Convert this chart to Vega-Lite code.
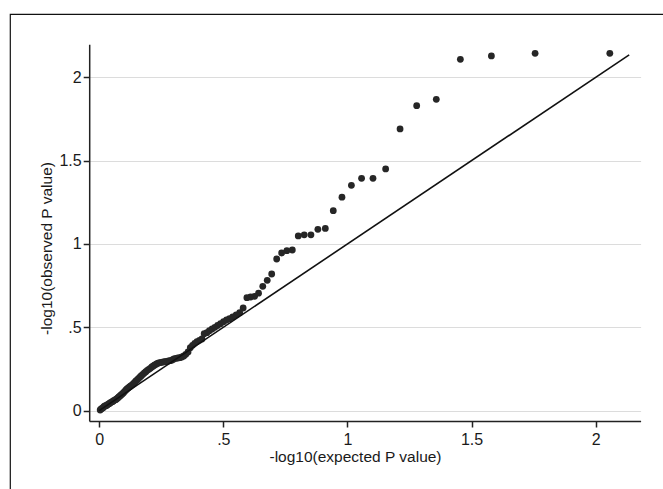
{
  "$schema": "https://vega.github.io/schema/vega-lite/v6.json",
  "width": 658,
  "height": 480,
  "autosize": {"type": "none"},
  "padding": {"left": 10, "top": 14, "right": 0, "bottom": 0},
  "background": "white",
  "config": {
    "view": {"stroke": "#111111", "strokeWidth": 1.2},
    "font": "Liberation Sans"
  },
  "datasets": {
    "pts": [
      {"expected": 2.057, "observed": 2.144},
      {"expected": 1.756, "observed": 2.144},
      {"expected": 1.580, "observed": 2.128},
      {"expected": 1.455, "observed": 2.108},
      {"expected": 1.358, "observed": 1.868},
      {"expected": 1.279, "observed": 1.830},
      {"expected": 1.212, "observed": 1.690},
      {"expected": 1.154, "observed": 1.450},
      {"expected": 1.103, "observed": 1.394},
      {"expected": 1.057, "observed": 1.394},
      {"expected": 1.016, "observed": 1.352},
      {"expected": 0.978, "observed": 1.281},
      {"expected": 0.943, "observed": 1.200},
      {"expected": 0.911, "observed": 1.093},
      {"expected": 0.881, "observed": 1.088},
      {"expected": 0.853, "observed": 1.055},
      {"expected": 0.826, "observed": 1.055},
      {"expected": 0.802, "observed": 1.048},
      {"expected": 0.778, "observed": 0.964},
      {"expected": 0.756, "observed": 0.960},
      {"expected": 0.735, "observed": 0.946},
      {"expected": 0.715, "observed": 0.910},
      {"expected": 0.695, "observed": 0.820},
      {"expected": 0.677, "observed": 0.782},
      {"expected": 0.659, "observed": 0.746},
      {"expected": 0.642, "observed": 0.705},
      {"expected": 0.626, "observed": 0.686},
      {"expected": 0.610, "observed": 0.682},
      {"expected": 0.595, "observed": 0.678},
      {"expected": 0.580, "observed": 0.616},
      {"expected": 0.566, "observed": 0.588},
      {"expected": 0.552, "observed": 0.575},
      {"expected": 0.538, "observed": 0.562},
      {"expected": 0.525, "observed": 0.552},
      {"expected": 0.513, "observed": 0.544},
      {"expected": 0.501, "observed": 0.534},
      {"expected": 0.489, "observed": 0.522},
      {"expected": 0.477, "observed": 0.511},
      {"expected": 0.466, "observed": 0.500},
      {"expected": 0.455, "observed": 0.490},
      {"expected": 0.444, "observed": 0.480},
      {"expected": 0.434, "observed": 0.468},
      {"expected": 0.423, "observed": 0.462},
      {"expected": 0.414, "observed": 0.430},
      {"expected": 0.404, "observed": 0.422},
      {"expected": 0.394, "observed": 0.414},
      {"expected": 0.385, "observed": 0.404},
      {"expected": 0.376, "observed": 0.392},
      {"expected": 0.367, "observed": 0.378},
      {"expected": 0.358, "observed": 0.352},
      {"expected": 0.349, "observed": 0.338},
      {"expected": 0.341, "observed": 0.328},
      {"expected": 0.333, "observed": 0.322},
      {"expected": 0.325, "observed": 0.318},
      {"expected": 0.317, "observed": 0.316},
      {"expected": 0.309, "observed": 0.314},
      {"expected": 0.301, "observed": 0.310},
      {"expected": 0.294, "observed": 0.304},
      {"expected": 0.286, "observed": 0.300},
      {"expected": 0.279, "observed": 0.298},
      {"expected": 0.272, "observed": 0.296},
      {"expected": 0.265, "observed": 0.294},
      {"expected": 0.258, "observed": 0.292},
      {"expected": 0.251, "observed": 0.290},
      {"expected": 0.244, "observed": 0.288},
      {"expected": 0.237, "observed": 0.285},
      {"expected": 0.231, "observed": 0.280},
      {"expected": 0.224, "observed": 0.274},
      {"expected": 0.218, "observed": 0.268},
      {"expected": 0.212, "observed": 0.262},
      {"expected": 0.206, "observed": 0.254},
      {"expected": 0.200, "observed": 0.248},
      {"expected": 0.194, "observed": 0.242},
      {"expected": 0.188, "observed": 0.234},
      {"expected": 0.182, "observed": 0.226},
      {"expected": 0.176, "observed": 0.218},
      {"expected": 0.170, "observed": 0.210},
      {"expected": 0.165, "observed": 0.202},
      {"expected": 0.159, "observed": 0.194},
      {"expected": 0.154, "observed": 0.186},
      {"expected": 0.148, "observed": 0.178},
      {"expected": 0.143, "observed": 0.170},
      {"expected": 0.138, "observed": 0.162},
      {"expected": 0.133, "observed": 0.155},
      {"expected": 0.127, "observed": 0.148},
      {"expected": 0.122, "observed": 0.142},
      {"expected": 0.117, "observed": 0.136},
      {"expected": 0.112, "observed": 0.130},
      {"expected": 0.108, "observed": 0.124},
      {"expected": 0.103, "observed": 0.116},
      {"expected": 0.098, "observed": 0.108},
      {"expected": 0.093, "observed": 0.100},
      {"expected": 0.088, "observed": 0.094},
      {"expected": 0.084, "observed": 0.088},
      {"expected": 0.079, "observed": 0.082},
      {"expected": 0.075, "observed": 0.076},
      {"expected": 0.070, "observed": 0.070},
      {"expected": 0.066, "observed": 0.066},
      {"expected": 0.061, "observed": 0.062},
      {"expected": 0.057, "observed": 0.058},
      {"expected": 0.053, "observed": 0.054},
      {"expected": 0.048, "observed": 0.050},
      {"expected": 0.044, "observed": 0.046},
      {"expected": 0.040, "observed": 0.042},
      {"expected": 0.036, "observed": 0.038},
      {"expected": 0.032, "observed": 0.034},
      {"expected": 0.028, "observed": 0.030},
      {"expected": 0.023, "observed": 0.028},
      {"expected": 0.019, "observed": 0.024},
      {"expected": 0.016, "observed": 0.018},
      {"expected": 0.012, "observed": 0.014},
      {"expected": 0.008, "observed": 0.010},
      {"expected": 0.004, "observed": 0.004}
    ],
    "ref": [
      {"expected": 0, "observed": 0},
      {"expected": 2.135, "observed": 2.135}
    ]
  },
  "layer": [
    {
      "data": {"name": "pts"},
      "mark": {"type": "circle", "size": 46, "color": "#262626", "opacity": 1},
      "encoding": {
        "x": {
          "field": "expected",
          "type": "quantitative",
          "scale": {"domain": [-0.0402, 2.181], "range": [79.2, 630.6], "nice": false, "zero": false},
          "axis": {
            "title": "-log10(expected P value)",
            "values": [0, 0.5, 1, 1.5, 2],
            "labelExpr": "datum.value == 0.5 ? '.5' : toString(datum.value)",
            "offset": -73,
            "grid": false,
            "domainColor": "#222222",
            "domainWidth": 1.5,
            "tickColor": "#222222",
            "tickWidth": 1.5,
            "tickSize": 6,
            "labelFontSize": 16,
            "labelColor": "#1a1a1a",
            "labelPadding": 4,
            "labelFlush": false,
            "labelOverlap": false,
            "titleFontSize": 15.5,
            "titleFontWeight": "normal",
            "titleColor": "#1a1a1a",
            "titleX": 345,
            "titleY": 40,
            "titleBaseline": "alphabetic",
            "titleAlign": "center"
          }
        },
        "y": {
          "field": "observed",
          "type": "quantitative",
          "scale": {"domain": [-0.062, 2.198], "range": [407, 30.3], "nice": false, "zero": false},
          "axis": {
            "title": "-log10(observed P value)",
            "values": [0, 0.5, 1, 1.5, 2],
            "labelExpr": "datum.value == 0.5 ? '.5' : toString(datum.value)",
            "offset": -79.2,
            "grid": true,
            "gridColor": "#dcdcdc",
            "gridWidth": 1,
            "domainColor": "#222222",
            "domainWidth": 1.5,
            "tickColor": "#222222",
            "tickWidth": 1.5,
            "tickSize": 6,
            "labelFontSize": 16,
            "labelColor": "#1a1a1a",
            "labelPadding": 2,
            "labelAngle": 0,
            "labelFlush": false,
            "labelOverlap": false,
            "titleFontSize": 15.5,
            "titleFontWeight": "normal",
            "titleColor": "#1a1a1a",
            "titleX": -37.7,
            "titleY": 234,
            "titleAngle": -90,
            "titleBaseline": "alphabetic",
            "titleAlign": "center"
          }
        }
      }
    },
    {
      "data": {"name": "ref"},
      "mark": {"type": "line", "color": "#111111", "strokeWidth": 1.6},
      "encoding": {
        "x": {"field": "expected", "type": "quantitative"},
        "y": {"field": "observed", "type": "quantitative"}
      }
    }
  ]
}
